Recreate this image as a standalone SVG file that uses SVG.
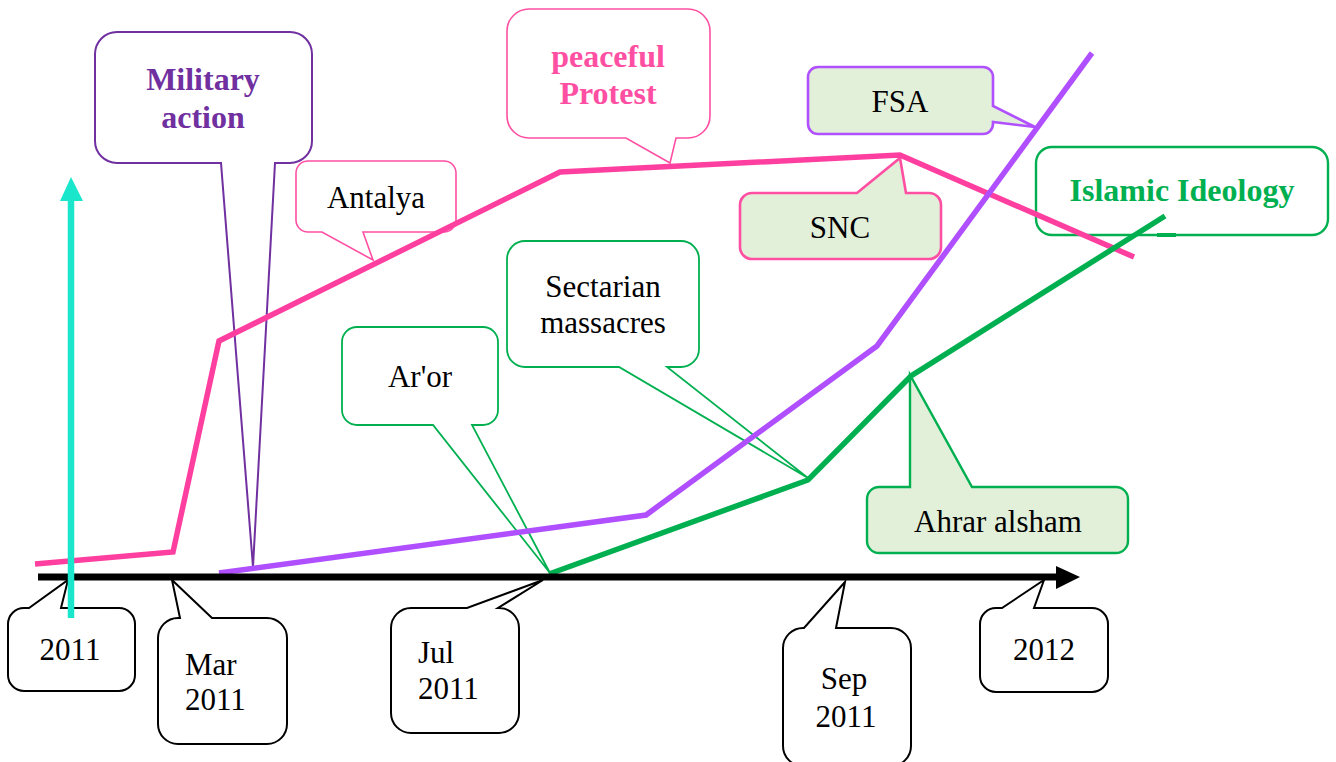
<svg xmlns="http://www.w3.org/2000/svg" width="1336" height="762" viewBox="0 0 1336 762">
<style>
text{font-family:"Liberation Serif","Times New Roman",serif;font-size:31px;fill:#000;text-anchor:middle}
.b{font-weight:bold;font-size:32px}
.cw{fill:#fff}
.cg{fill:#E2EFD9}
.sk{stroke:#000;stroke-width:2}
.sp{stroke:#FF4FA3;stroke-width:1.6}
.sp2{stroke:#FF4FA3;stroke-width:2.6}
.sg{stroke:#00B050;stroke-width:1.8}
.sg2{stroke:#00B050;stroke-width:2.4}
.sv{stroke:#B050FF;stroke-width:2.6}
.sm{stroke:#7030A0;stroke-width:2}
.dl{fill:none;stroke-width:5.5;stroke-linejoin:miter}
</style>
<rect width="1336" height="762" fill="#fff"/>
<g id="military-action">
<path class="cw sm" d="M117,32 H290 A22,22 0 0 1 312,54 V141 A22,22 0 0 1 290,163 H275 L253,567 L221,163 H117 A22,22 0 0 1 95,141 V54 A22,22 0 0 1 117,32 Z"/>
<text class="b" x="203" y="90" style="fill:#7030A0">Military</text>
<text class="b" x="203" y="128" style="fill:#7030A0">action</text>
</g>
<g id="antalya">
<path class="cw sp" d="M308,161 H444 A12,12 0 0 1 456,173 V220 A12,12 0 0 1 444,232 H363 L373,260 L322,232 H308 A12,12 0 0 1 296,220 V173 A12,12 0 0 1 308,161 Z"/>
<text x="376" y="208">Antalya</text>
</g>
<g id="peaceful-protest">
<path class="cw sp" d="M529,9 H688 A22,22 0 0 1 710,31 V116 A22,22 0 0 1 688,138 H676 L670,163 L626,138 H529 A22,22 0 0 1 507,116 V31 A22,22 0 0 1 529,9 Z"/>
<text class="b" x="608" y="67" style="fill:#FF4FA3">peaceful</text>
<text class="b" x="608" y="104" style="fill:#FF4FA3">Protest</text>
</g>
<g id="fsa">
<path class="cg sv" d="M818,67 H983 A10,10 0 0 1 993,77 V106 L1035,127 L993,122 V124 A10,10 0 0 1 983,134 H818 A10,10 0 0 1 808,124 V77 A10,10 0 0 1 818,67 Z"/>
<text x="900" y="112">FSA</text>
</g>
<g id="snc">
<path class="cg sp2" d="M752,193 H857 L900,158 L906,193 H929 A12,12 0 0 1 941,205 V247 A12,12 0 0 1 929,259 H752 A12,12 0 0 1 740,247 V205 A12,12 0 0 1 752,193 Z"/>
<text x="840" y="238">SNC</text>
</g>
<g id="islamic-ideology">
<rect class="cw sg2" x="1036" y="147" width="292" height="88" rx="16"/>
<line x1="1157" y1="235" x2="1176" y2="235" stroke="#00B050" stroke-width="4"/>
<text class="b" x="1182" y="201" style="fill:#00B050">Islamic Ideology</text>
</g>
<g id="aror">
<path class="cw sg" d="M357,327 H483 A15,15 0 0 1 498,342 V410 A15,15 0 0 1 483,425 H472 L550,573 L433,425 H357 A15,15 0 0 1 342,410 V342 A15,15 0 0 1 357,327 Z"/>
<text x="420" y="387">Ar'or</text>
</g>
<g id="sectarian-massacres">
<path class="cw sg" d="M525,241 H681 A18,18 0 0 1 699,259 V349 A18,18 0 0 1 681,367 H667 L808,478 L619,367 H525 A18,18 0 0 1 507,349 V259 A18,18 0 0 1 525,241 Z"/>
<text x="603" y="297">Sectarian</text>
<text x="603" y="333">massacres</text>
</g>
<g id="ahrar-alsham">
<path class="cg sg2" d="M879,487 H910 L910,375 L972,487 H1116 A12,12 0 0 1 1128,499 V541 A12,12 0 0 1 1116,553 H879 A12,12 0 0 1 867,541 V499 A12,12 0 0 1 879,487 Z"/>
<text x="998" y="532">Ahrar alsham</text>
</g>
<g id="date-2011">
<path class="cw sk" d="M24,608 H29 L68,580 L61,608 H119 A16,16 0 0 1 135,624 V675 A16,16 0 0 1 119,691 H24 A16,16 0 0 1 8,675 V624 A16,16 0 0 1 24,608 Z"/>
<text x="70" y="660">2011</text>
</g>
<g id="date-mar-2011">
<path class="cw sk" d="M178,618 H180 L172,580 L212,618 H267 A20,20 0 0 1 287,638 V724 A20,20 0 0 1 267,744 H178 A20,20 0 0 1 158,724 V638 A20,20 0 0 1 178,618 Z"/>
<text x="185" y="675" style="text-anchor:start">Mar</text>
<text x="185" y="710" style="text-anchor:start">2011</text>
</g>
<g id="date-jul-2011">
<path class="cw sk" d="M411,608 H467 L543,580 L498,608 H499 A20,20 0 0 1 519,628 V713 A20,20 0 0 1 499,733 H411 A20,20 0 0 1 391,713 V628 A20,20 0 0 1 411,608 Z"/>
<text x="418" y="663" style="text-anchor:start">Jul</text>
<text x="418" y="699" style="text-anchor:start">2011</text>
</g>
<g id="date-sep-2011">
<path class="cw sk" d="M803,628 H804 L845,582 L836,628 H891 A20,20 0 0 1 911,648 V746 A20,20 0 0 1 891,766 H803 A20,20 0 0 1 783,746 V648 A20,20 0 0 1 803,628 Z"/>
<text x="844" y="689">Sep</text>
<text x="846" y="727">2011</text>
</g>
<g id="date-2012">
<path class="cw sk" d="M996,608 H1002 L1044,580 L1034,608 H1092 A16,16 0 0 1 1108,624 V676 A16,16 0 0 1 1092,692 H996 A16,16 0 0 1 980,676 V624 A16,16 0 0 1 996,608 Z"/>
<text x="1044" y="660">2012</text>
</g>
<g id="connectors">
<polyline class="dl" stroke="#FF3FA0" points="35,564 173,552 219,341 560,172 900,155 1134,257"/>
<polyline class="dl" stroke="#B04FFF" points="219,573 646,515 877,346 1092,53"/>
<polyline class="dl" stroke="#00B050" points="549,574 808,480 911,376 1165,216"/>
<line x1="38" y1="577" x2="1058" y2="577" stroke="#000" stroke-width="7"/>
<polygon points="1056,566 1080,577 1056,589" fill="#000"/>
<line x1="71" y1="618" x2="71" y2="198" stroke="#1AE6CC" stroke-width="6.5"/>
<polygon points="60,201 71,177 83,201" fill="#1AE6CC"/>
</g>
</svg>
